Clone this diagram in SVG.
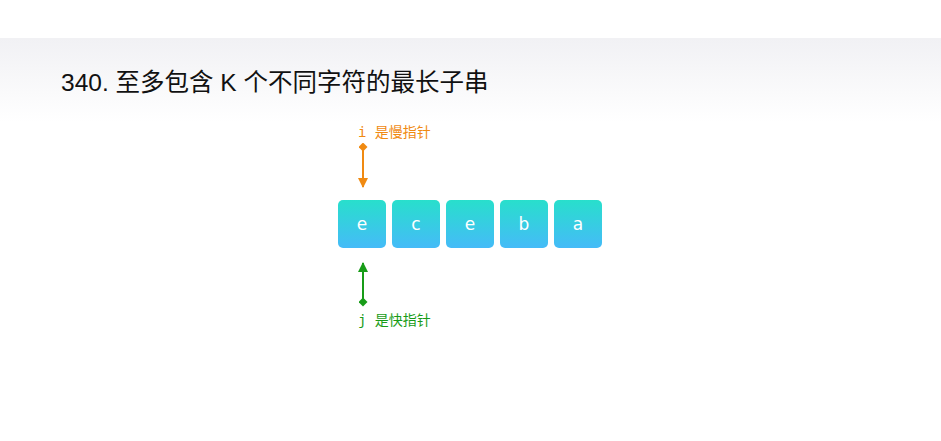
<svg xmlns="http://www.w3.org/2000/svg" width="941" height="441" viewBox="0 0 941 441">
<defs>
<linearGradient id="bg" x1="0" y1="0" x2="0" y2="1">
<stop offset="0" stop-color="#f1f1f4"/>
<stop offset="1" stop-color="#ffffff"/>
</linearGradient>
<linearGradient id="cell" x1="0" y1="0" x2="0" y2="1">
<stop offset="0" stop-color="#28dfcc"/>
<stop offset="1" stop-color="#45bbf8"/>
</linearGradient>
<marker id="arrO" viewBox="0 0 10 10" refX="9" refY="5" markerWidth="10" markerHeight="10" markerUnits="userSpaceOnUse" orient="auto"><path d="M0,0 L10,5 L0,10 z" fill="#f08a12"/></marker>
<marker id="dO" viewBox="0 0 10 10" refX="5" refY="5" markerWidth="9" markerHeight="9" markerUnits="userSpaceOnUse" orient="auto"><path d="M0,5 L5,0 L10,5 L5,10 z" fill="#f08a12"/></marker>
<marker id="arrG" viewBox="0 0 10 10" refX="9" refY="5" markerWidth="10" markerHeight="10" markerUnits="userSpaceOnUse" orient="auto"><path d="M0,0 L10,5 L0,10 z" fill="#189c18"/></marker>
<marker id="dG" viewBox="0 0 10 10" refX="5" refY="5" markerWidth="9" markerHeight="9" markerUnits="userSpaceOnUse" orient="auto"><path d="M0,5 L5,0 L10,5 L5,10 z" fill="#189c18"/></marker>
</defs>
<style>
.title{font-family:"Liberation Sans","Noto Sans CJK SC",sans-serif;font-size:24.5px;fill:#111}
.cellr{fill:url(#cell)}
.ct{font-family:"DejaVu Sans","Noto Sans",sans-serif;font-size:17px;fill:#fff;text-anchor:middle}
.lbl{font-family:"DejaVu Sans Mono","Noto Sans CJK SC",monospace;font-size:14px}
</style>
<rect x="0" y="0" width="941" height="441" fill="#fff"/>
<rect x="0" y="38" width="941" height="84" fill="url(#bg)"/>
<text class="title" x="61" y="91">340. 至多包含 K 个不同字符的最长子串</text>
<g id="cell0"><rect class="cellr" x="338" y="200" width="48" height="48" rx="5"/><text class="ct" x="362" y="230">e</text></g>
<g id="cell1"><rect class="cellr" x="392" y="200" width="48" height="48" rx="5"/><text class="ct" x="416" y="230">c</text></g>
<g id="cell2"><rect class="cellr" x="446" y="200" width="48" height="48" rx="5"/><text class="ct" x="470" y="230">e</text></g>
<g id="cell3"><rect class="cellr" x="500" y="200" width="48" height="48" rx="5"/><text class="ct" x="524" y="230">b</text></g>
<g id="cell4"><rect class="cellr" x="554" y="200" width="48" height="48" rx="5"/><text class="ct" x="578" y="230">a</text></g>
<g id="pointer-i"><text class="lbl" x="358" y="137" fill="#f08a12">i 是慢指针</text></g>
<g id="pointer-j"><text class="lbl" x="358" y="325" fill="#189c18">j 是快指针</text></g>
<g id="connectors">
<line x1="363" y1="147" x2="363" y2="187" stroke="#f08a12" stroke-width="2" marker-start="url(#dO)" marker-end="url(#arrO)"/>
<line x1="363" y1="302" x2="363" y2="263" stroke="#189c18" stroke-width="2" marker-start="url(#dG)" marker-end="url(#arrG)"/>
</g>
</svg>
